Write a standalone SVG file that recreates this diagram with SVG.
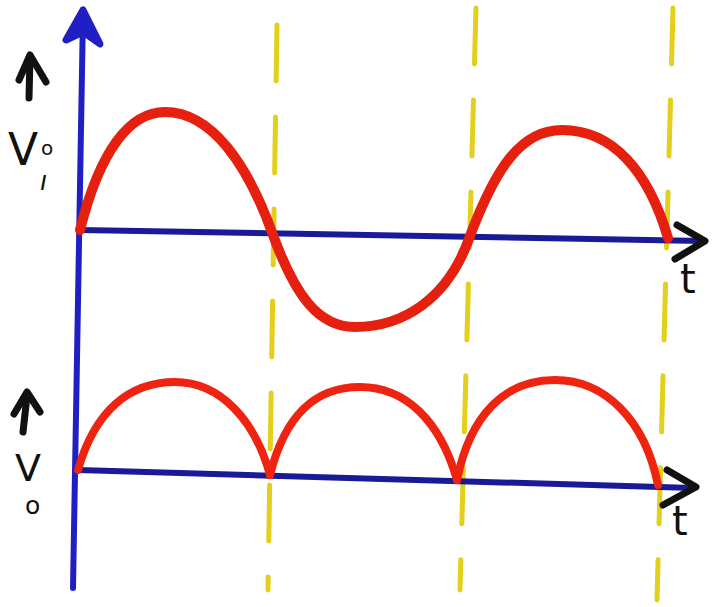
<svg xmlns="http://www.w3.org/2000/svg" width="714" height="607" viewBox="0 0 714 607">
<style>
.dash{stroke:#e3cf1c;stroke-width:5;stroke-dasharray:56 36;stroke-linecap:round;fill:none}
.axis{stroke:#1a1a96;stroke-width:6;stroke-linecap:round;fill:none}
.vaxis{stroke:#1f1fc4;stroke-width:6;stroke-linecap:round;stroke-linejoin:round;fill:none}
.wave{stroke:#e5200e;stroke-width:10;stroke-linecap:round;fill:none}
.rect{stroke:#ee2410;stroke-width:8;stroke-linecap:round;fill:none}
.head{stroke:#111;stroke-width:7;stroke-linecap:round;stroke-linejoin:round;fill:none}
.lbl{font-family:"DejaVu Sans","Liberation Sans",sans-serif;fill:#111}
</style>
<rect width="714" height="607" fill="#ffffff"/>
<g id="guides">
<line class="dash" x1="277" y1="25" x2="268" y2="590"/>
<line class="dash" x1="476" y1="8" x2="460" y2="590"/>
<line class="dash" x1="673" y1="8" x2="657" y2="600"/>
</g>
<g id="axes">
<polyline class="vaxis" points="73,588 83,14"/>
<polygon points="83,10 66,40 83,32 100,44" fill="#1f1fc4" stroke="#1f1fc4" stroke-width="7" stroke-linejoin="round"/>
<polyline class="axis" points="80,230 703,241"/>
<polyline class="head" points="677,225 705,241 675,259"/>
<polyline class="axis" points="78,470 693,488"/>
<polyline class="head" points="667,470 696,487 663,505"/>
</g>
<g id="input-wave">
<path class="wave" d="M80,230 C100,150 130,112 165,112 C212,112 248,165 273,235 C295,295 318,327 355,327 C402,327 448,300 470,236 C495,170 520,130 562,130 C612,130 648,170 668,238"/>
</g>
<g id="output-wave">
<path class="rect" d="M78,470 C95,410 130,382 175,382 C220,382 255,420 270,475"/>
<path class="rect" d="M270,475 C285,415 315,387 360,387 C405,387 440,420 457,480"/>
<path class="rect" d="M457,480 C470,415 505,380 555,380 C605,380 645,420 658,485"/>
</g>
<g id="labels">
<polyline class="head" stroke-width="5" points="29,98 30,56"/>
<polyline class="head" stroke-width="6" points="19,80 30,55 46,82"/>
<text class="lbl" x="8" y="165" font-size="44">V<tspan x="41" y="155" font-size="20">o</tspan><tspan x="40" y="190" font-size="26" font-style="italic">ı</tspan></text>
<polyline class="head" stroke-width="5" points="23,432 27,396"/>
<polyline class="head" stroke-width="6" points="14,414 27,392 40,412"/>
<text class="lbl" x="15" y="481" font-size="38">V<tspan x="25" y="514" font-size="25">o</tspan></text>
<text class="lbl" x="680" y="293" font-size="40">t</text>
<text class="lbl" x="672" y="535" font-size="40">t</text>
</g>
</svg>
